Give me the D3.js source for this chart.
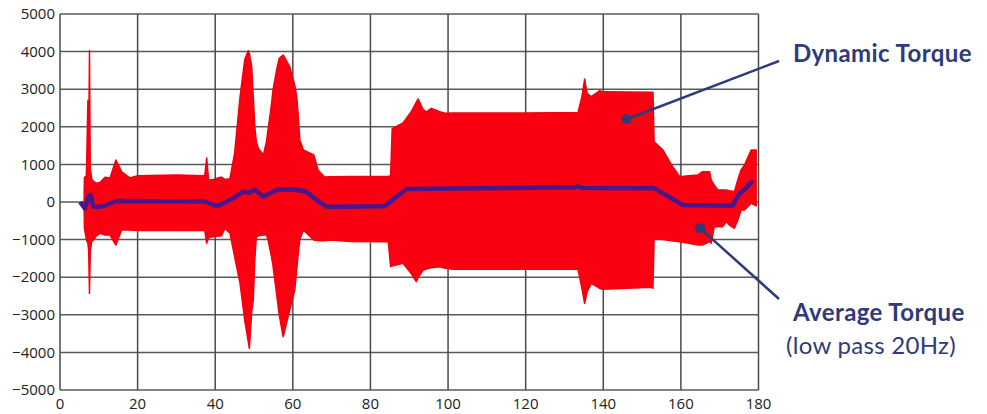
<!DOCTYPE html>
<html>
<head>
<meta charset="utf-8">
<script src="https://cdn.jsdelivr.net/npm/d3@7"></script>
<style>
  body { margin: 0; background: #fff; }
  svg { display: block; }
</style>
</head>
<body>
<div id="chart"></div>
<script>
// dynamic torque envelope (time in s, upper / lower bound in Nm)
const envTime  = [6.2, 6.3, 6.8, 7.2, 7.4, 7.6, 7.8, 8.2, 8.6, 9.4, 10.3, 11.6, 12.9, 14.4, 15.9, 18, 20, 30, 37.3, 37.8, 38.3, 39.5, 41.6, 42.5, 43.8, 45.0, 46.4, 47.6, 48.5, 48.8, 49.4, 49.8, 50.2, 50.6, 51.1, 52.4, 53.2, 53.6, 54.5, 54.9, 55.8, 56.5, 57.5, 59.2, 60.5, 61.0, 61.4, 61.8, 62.7, 65.4, 66.5, 68.2, 69.5, 75, 84.6, 85.2, 85.6, 88.4, 90.5, 91.8, 92.3, 93.6, 94.4, 95.7, 97.9, 99.2, 101.3, 120, 133.5, 134.5, 135.2, 135.8, 136.9, 139.1, 139.9, 152.4, 152.8, 153.1, 155.4, 157.5, 159.7, 162, 164.4, 165.6, 167.4, 167.8, 168.6, 169.5, 170.8, 171.7, 172.5, 173.8, 174.7, 175.5, 176.4, 178.1, 179.4];
const envUpper = [0, 650, 700, 2700, 1500, 4020, 900, 600, 550, 500, 520, 660, 640, 1117, 800, 640, 700, 720, 700, 1170, 585, 600, 665, 600, 620, 1300, 2800, 3780, 4025, 3950, 3600, 2800, 2000, 1600, 1430, 1250, 1600, 1915, 2600, 2980, 3500, 3820, 3910, 3600, 3100, 2800, 2300, 1650, 1383, 1250, 850, 665, 673, 680, 680, 700, 1950, 2100, 2400, 2650, 2740, 2450, 2400, 2490, 2400, 2360, 2370, 2370, 2380, 2800, 3270, 2900, 2800, 2960, 2930, 2920, 2920, 1600, 1383, 1000, 673, 700, 720, 806, 806, 585, 450, 320, 320, 320, 300, 274, 600, 850, 984, 1383, 1383];
const envLower = [0, -700, -1000, -1100, -1300, -2430, -1300, -1050, -1010, -900, -833, -880, -878, -1144, -745, -745, -760, -760, -750, -1100, -950, -923, -900, -700, -830, -1455, -2163, -3140, -3700, -3890, -2900, -2607, -1543, -923, -900, -880, -878, -1000, -1455, -1700, -2430, -3000, -3583, -2873, -2340, -1800, -1365, -1000, -745, -1010, -1030, -1030, -1010, -1050, -1055, -1720, -1700, -1631, -1900, -2120, -2000, -1809, -1780, -1750, -1720, -1760, -1790, -1790, -1790, -2300, -2695, -2400, -2163, -2300, -2322, -2270, -2296, -966, -1000, -1030, -1055, -1100, -1144, -1144, -1050, -1100, -656, -656, -656, -523, -612, -700, -479, -213, -213, -35, -100];

// average torque (low pass 20Hz)
const avgTime  = [5.2, 6.4, 7.3, 7.9, 8.6, 10.3, 12, 14.6, 37.3, 39.5, 40.8, 44.6, 47.2, 48.9, 50.2, 52.4, 55.8, 60.1, 63.5, 66.1, 68.7, 83.7, 89.3, 132.6, 133.5, 134.5, 153.2, 160.5, 173.4, 174.7, 176.8, 178.5];
const avgValue = [0, -170, 140, 186, -125, -125, -80, 27, 10, -80, -98, 98, 274, 248, 337, 141, 319, 337, 274, 53, -125, -110, 346, 390, 420, 370, 364, -80, -100, 186, 364, 570];

const xTicks = [0, 20, 40, 60, 80, 100, 120, 140, 160, 180];
const yTicks = [-5000, -4000, -3000, -2000, -1000, 0, 1000, 2000, 3000, 4000, 5000];

const width = 987, height = 414;
const margin = {top: 14, right: 228.5, bottom: 24, left: 60};
const navy = "#2e3a7a";

const svg = d3.select("#chart")
  .append("svg")
  .attr("width", width)
  .attr("height", height);

const x = d3.scaleLinear().domain([0, 180]).range([margin.left, width - margin.right]);
const y = d3.scaleLinear().domain([-5000, 5000]).range([height - margin.bottom, margin.top]);

// grid
svg.append("g")
  .selectAll("line")
  .data(yTicks)
  .join("line")
  .attr("x1", x(0)).attr("x2", x(180))
  .attr("y1", d => y(d)).attr("y2", d => y(d))
  .attr("stroke", "#5a5a5a")
  .attr("stroke-width", 1.5);

svg.append("g")
  .selectAll("line")
  .data(xTicks)
  .join("line")
  .attr("x1", d => x(d)).attr("x2", d => x(d))
  .attr("y1", y(-5000)).attr("y2", y(5000))
  .attr("stroke", "#4a4a4a")
  .attr("stroke-width", 1.5);

// dynamic torque band
const env = envTime.map((t, i) => ({t: t, hi: envUpper[i], lo: envLower[i]}));
svg.append("path")
  .datum(env)
  .attr("fill", "#fa0011")
  .attr("stroke", "#f00010")
  .attr("stroke-width", 1.5)
  .attr("stroke-linejoin", "round")
  .attr("d", d3.area()
    .x(d => x(d.t))
    .y0(d => y(d.lo))
    .y1(d => y(d.hi)));

// average torque line
const avg = avgTime.map((t, i) => ({t: t, v: avgValue[i]}));
svg.append("path")
  .datum(avg)
  .attr("fill", "none")
  .attr("stroke", "#4a168a")
  .attr("stroke-width", 4.5)
  .attr("stroke-linejoin", "round")
  .attr("d", d3.line().x(d => x(d.t)).y(d => y(d.v)));

// axes labels
svg.append("g")
  .selectAll("text")
  .data(yTicks)
  .join("text")
  .attr("x", margin.left - 5)
  .attr("y", d => y(d))
  .attr("dy", "0.35em")
  .attr("text-anchor", "end")
  .attr("font-family", "Open Sans, sans-serif")
  .attr("font-size", 15)
  .attr("fill", "#222")
  .text(d => d3.format("d")(d));

svg.append("g")
  .selectAll("text")
  .data(xTicks)
  .join("text")
  .attr("x", d => x(d))
  .attr("y", 409)
  .attr("text-anchor", "middle")
  .attr("font-family", "Open Sans, sans-serif")
  .attr("font-size", 15)
  .attr("fill", "#222")
  .text(d => d);

// annotations
const notes = [
  {dot: [146, 2200], end: [779, 61]},
  {dot: [165, -700], end: [779, 299]}
];
notes.forEach(n => {
  svg.append("line")
    .attr("x1", x(n.dot[0])).attr("y1", y(n.dot[1]))
    .attr("x2", n.end[0]).attr("y2", n.end[1])
    .attr("stroke", navy)
    .attr("stroke-width", 2.5);
  svg.append("circle")
    .attr("cx", x(n.dot[0])).attr("cy", y(n.dot[1]))
    .attr("r", 5)
    .attr("fill", navy);
});

svg.append("text")
  .attr("x", 793).attr("y", 62)
  .attr("font-family", "Lato, sans-serif")
  .attr("font-weight", "bold")
  .attr("font-size", 24)
  .attr("letter-spacing", 0.4)
  .attr("fill", navy)
  .text("Dynamic Torque");

svg.append("text")
  .attr("x", 793).attr("y", 321)
  .attr("font-family", "Lato, sans-serif")
  .attr("font-weight", "bold")
  .attr("font-size", 24)
  .attr("letter-spacing", 0.4)
  .attr("fill", navy)
  .text("Average Torque");

svg.append("text")
  .attr("x", 786).attr("y", 354)
  .attr("font-family", "Lato, sans-serif")
  .attr("font-size", 24)
  .attr("letter-spacing", 0.3)
  .attr("fill", navy)
  .text("(low pass 20Hz)");
</script>
</body>
</html>
